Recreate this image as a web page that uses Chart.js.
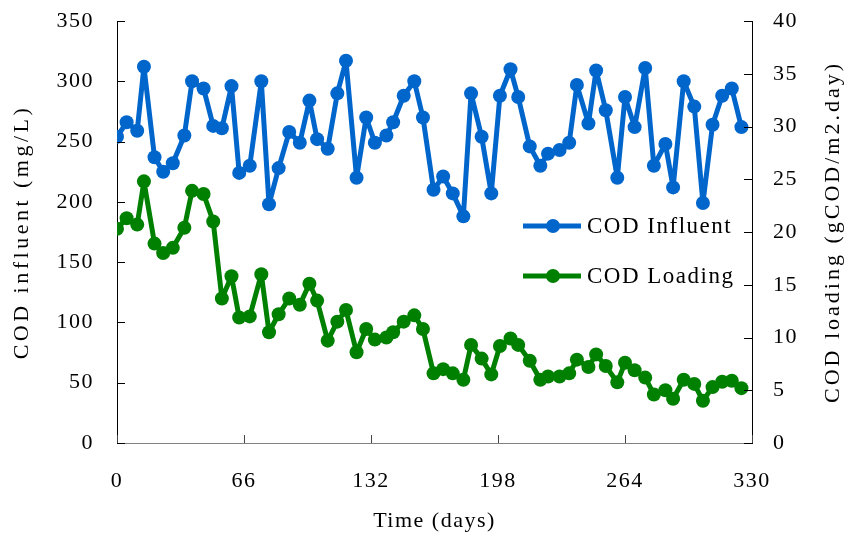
<!DOCTYPE html>
<html>
<head>
<meta charset="utf-8">
<script src="https://cdn.jsdelivr.net/npm/chart.js@4"></script>
<style>
  html, body { margin: 0; padding: 0; background: #fff; }
  #wrap { width: 846px; height: 534px; }
</style>
</head>
<body>
<div id="wrap"><canvas id="codChart" width="846" height="534"></canvas></div>
<script>
// sampling days
const days = [0, 5, 10.5, 14, 19.5, 24, 29, 35, 39, 45,
  50, 54.5, 59.5, 63.5, 69, 75, 79, 84, 89.5, 95,
  100, 104, 109.5, 114.5, 119, 124.5, 129.5, 134, 140, 143.5,
  149, 154.5, 159, 164.5, 169.5, 174.5, 180, 184, 189.5, 194.5,
  199, 204.5, 208.5, 214.5, 220, 224, 230, 235, 239, 245,
  249, 254, 260, 264, 269, 274.5, 279, 285, 289, 294.5,
  300, 304.5, 309.5, 314.5, 319.5, 324.5];

// COD influent (mg/L) - left axis
const influent = [254, 266, 259, 312, 237, 225, 232, 255, 300, 294,
  263, 261, 296, 224, 230, 300, 198, 228, 258, 249,
  284, 252, 244, 290, 317, 220, 270, 249, 255, 266,
  288, 300, 270, 210, 221, 207, 188, 290, 254, 207,
  288, 310, 287, 246, 230, 240, 243, 249, 297, 265,
  309, 276, 220, 287, 262, 311, 230, 248, 212, 300,
  279, 199, 264, 288, 294, 262];

// COD loading (gCOD/m2.day) - right axis
const loading = [20.3, 21.3, 20.7, 24.8, 18.9, 18.0, 18.5, 20.4, 23.9, 23.6,
  21.0, 13.7, 15.8, 11.9, 12.0, 16.0, 10.5, 12.2, 13.7, 13.1,
  15.1, 13.5, 9.7, 11.5, 12.6, 8.6, 10.8, 9.8, 10.0, 10.5,
  11.5, 12.1, 10.8, 6.6, 7.0, 6.6, 6.0, 9.3, 8.0, 6.5,
  9.2, 9.9, 9.3, 7.8, 6.0, 6.3, 6.3, 6.6, 7.9, 7.2,
  8.4, 7.3, 5.75, 7.6, 6.9, 6.2, 4.6, 5.0, 4.2, 6.0,
  5.6, 4.0, 5.3, 5.8, 5.9, 5.2];

const seriesLabels = ['COD Influent', 'COD Loading'];
const axisTitles = ['Time (days)', 'COD influent (mg/L)', 'COD loading (gCOD/m2.day)'];
const xTicks = [0, 66, 132, 198, 264, 330];

const BLUE = '#0066CC';
const GREEN = '#008000';
const FONT = 'Liberation Serif';

function vText(ctx, text, x, y) {
  ctx.save();
  ctx.translate(x, y);
  ctx.rotate(-Math.PI / 2);
  ctx.textAlign = 'center';
  ctx.textBaseline = 'middle';
  ctx.fillText(text, 0, 0);
  ctx.restore();
}

function noPad(s) {
  s.paddingTop = 0;
  s.paddingBottom = 0;
}

// inward tick marks, vertical axis titles, in-plot legend
const decorPlugin = {
  id: 'decor',
  beforeDraw(chart) {
    chart.ctx.letterSpacing = '1.5px';
  },
  afterDraw(chart) {
    const ctx = chart.ctx;
    const area = chart.chartArea;
    const sx = chart.scales.x, sy = chart.scales.y, sy1 = chart.scales.y1;
    ctx.save();
    ctx.lineWidth = 1;
    ctx.strokeStyle = '#000';
    sy.ticks.forEach(t => {
      const p = Math.round(sy.getPixelForValue(t.value)) + 0.5;
      ctx.beginPath(); ctx.moveTo(area.left, p); ctx.lineTo(area.left + 8, p); ctx.stroke();
    });
    sy1.ticks.forEach(t => {
      const p = Math.round(sy1.getPixelForValue(t.value)) + 0.5;
      ctx.beginPath(); ctx.moveTo(area.right - 8, p); ctx.lineTo(area.right, p); ctx.stroke();
    });
    ctx.strokeStyle = '#444';
    sx.ticks.forEach(t => {
      const p = Math.round(sx.getPixelForValue(t.value)) + 0.5;
      ctx.beginPath(); ctx.moveTo(p, area.bottom); ctx.lineTo(p, area.bottom - 8); ctx.stroke();
    });

    // vertical axis titles, both reading bottom to top
    ctx.fillStyle = '#000';
    ctx.font = '22px "' + FONT + '"';
    const midY = (area.top + area.bottom) / 2;
    ctx.letterSpacing = '3.5px';
    vText(ctx, axisTitles[1], 22, midY);
    ctx.letterSpacing = '3px';
    vText(ctx, axisTitles[2], 833, midY);
    ctx.restore();

    // legend
    ctx.save();
    const rows = [[BLUE, seriesLabels[0], 226], [GREEN, seriesLabels[1], 276]];
    rows.forEach(([c, label, y]) => {
      ctx.strokeStyle = c;
      ctx.fillStyle = c;
      ctx.lineWidth = 5;
      ctx.beginPath(); ctx.moveTo(523, y); ctx.lineTo(581, y); ctx.stroke();
      ctx.beginPath(); ctx.arc(553, y, 7, 0, Math.PI * 2); ctx.fill();
      ctx.fillStyle = '#000';
      ctx.font = '23px "' + FONT + '"';
      ctx.letterSpacing = '1.5px';
      ctx.textAlign = 'left';
      ctx.textBaseline = 'middle';
      ctx.fillText(label, 587, y + 1);
    });
    ctx.restore();
  }
};

const ctx = document.getElementById('codChart').getContext('2d');
const codChart = new Chart(ctx, {
  type: 'line',
  data: {
    datasets: [{
      label: seriesLabels[0],
      data: days.map((d, i) => ({ x: d, y: influent[i] })),
      yAxisID: 'y',
      borderColor: BLUE,
      backgroundColor: BLUE,
      borderWidth: 5,
      borderJoinStyle: 'round',
      pointRadius: 7,
      pointBorderWidth: 0,
      pointBackgroundColor: BLUE,
      tension: 0
    }, {
      label: seriesLabels[1],
      data: days.map((d, i) => ({ x: d, y: loading[i] })),
      yAxisID: 'y1',
      borderColor: GREEN,
      backgroundColor: GREEN,
      borderWidth: 5,
      borderJoinStyle: 'round',
      pointRadius: 7,
      pointBorderWidth: 0,
      pointBackgroundColor: GREEN,
      tension: 0
    }]
  },
  options: {
    responsive: false,
    animation: false,
    layout: { padding: { top: 21, left: 0, right: 0, bottom: 0 } },
    plugins: {
      legend: { display: false },
      tooltip: { enabled: false }
    },
    scales: {
      x: {
        type: 'linear',
        min: 0,
        max: 330,
        afterBuildTicks: s => { s.ticks = xTicks.map(v => ({ value: v })); },
        grid: { display: false, drawTicks: false },
        border: { display: true, color: '#808080', width: 1 },
        ticks: { color: '#000', padding: 25, maxRotation: 0, font: { family: FONT, size: 22 } },
        title: { display: true, text: axisTitles[0], color: '#000', padding: { top: 0, bottom: 0 }, font: { family: FONT, size: 22 } },
        afterFit: s => { s.height = 91; s.paddingLeft = 0; s.paddingRight = 0; }
      },
      y: {
        position: 'left',
        min: 0,
        max: 350,
        ticks: { stepSize: 50, color: '#000', padding: 23, font: { family: FONT, size: 22 } },
        grid: { display: false, drawTicks: false },
        border: { display: true, color: '#000', width: 1 },
        afterFit: s => { s.width = 117; noPad(s); }
      },
      y1: {
        position: 'right',
        min: 0,
        max: 40,
        ticks: { stepSize: 5, color: '#000', padding: 21, font: { family: FONT, size: 22 } },
        grid: { display: false, drawTicks: false },
        border: { display: true, color: '#000', width: 1 },
        afterFit: s => { s.width = 94; noPad(s); }
      }
    }
  },
  plugins: [decorPlugin]
});
</script>
</body>
</html>
